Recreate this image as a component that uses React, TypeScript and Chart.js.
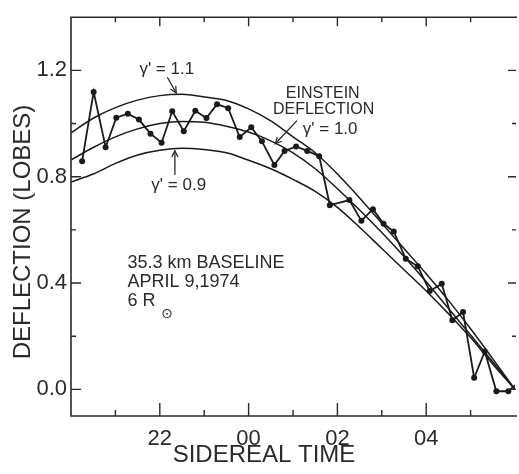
import React, { useEffect, useRef } from "react";
import { Chart, registerables } from "chart.js";

Chart.register(...registerables);

// Sidereal time in hours (00 h is written as 24, 02 h as 26, ...)
const measuredHours = [
  20.25, 20.51, 20.78, 21.02, 21.28, 21.53, 21.79, 22.04, 22.28, 22.54, 22.8, 23.05, 23.29,
  23.54, 23.8, 24.06, 24.3, 24.58, 24.81, 25.07, 25.32, 25.59, 25.83, 26.27, 26.54, 26.8,
  27.04, 27.27, 27.54, 27.81, 28.08, 28.35, 28.59, 28.83, 29.08, 29.32, 29.58, 29.85, 30.1,
];
const measuredDeflection = [
  0.858, 1.119, 0.911, 1.022, 1.037, 1.015, 0.962, 0.928, 1.046, 0.971, 1.048, 1.021, 1.073,
  1.058, 0.949, 0.986, 0.933, 0.844, 0.897, 0.914, 0.897, 0.877, 0.693, 0.712, 0.634, 0.678,
  0.623, 0.594, 0.491, 0.463, 0.37, 0.397, 0.26, 0.291, 0.044, 0.143, -0.007, -0.007, 0.03,
];

const curveHours = [
  20, 20.5, 21, 21.5, 22, 22.5, 23, 23.5, 24, 24.5, 25, 25.5, 26, 26.5, 27, 27.5, 28, 28.5, 29,
  29.5, 30,
];
const gamma11 = [
  0.965, 1.02, 1.06, 1.088, 1.105, 1.11, 1.1, 1.087, 1.055, 1.01, 0.95, 0.89, 0.81, 0.72, 0.625,
  0.53, 0.435, 0.335, 0.228, 0.115, 0.0,
];
const gamma10 = [
  0.863, 0.91, 0.95, 0.98, 1.0, 1.008, 1.005, 0.99, 0.968, 0.935, 0.89, 0.83, 0.755, 0.675, 0.59,
  0.5, 0.405, 0.305, 0.205, 0.103, 0.0,
];
const gamma09 = [
  0.78, 0.81, 0.85, 0.882, 0.9, 0.907, 0.902, 0.89, 0.862, 0.83, 0.79, 0.745, 0.685, 0.61, 0.53,
  0.45, 0.37, 0.285, 0.195, 0.095, 0.0,
];

const xMajorTicks = [22, 24, 26, 28];
const xMinorTicks = [21, 23, 25, 27, 29];
const xTickLabels = ["22", "00", "02", "04"];
const yMajorTicks = [0, 0.4, 0.8, 1.2];
const yMinorTicks = [0.2, 0.6, 1.0];
const yTickLabels = ["0.0", "0.4", "0.8", "1.2"];

const X_MIN = 20;
const X_MAX = 30;
const Y_MIN = -0.1;
const Y_MAX = 1.4;

const INK = "#2a2a2a";
const LINE = "#1a1a1a";
const FONT = "'Liberation Sans', Arial, sans-serif";

const toPts = (xs: number[], ys: number[]) => xs.map((x, i) => ({ x, y: ys[i] }));

function arrow(ctx: CanvasRenderingContext2D, x1: number, y1: number, x2: number, y2: number) {
  ctx.beginPath();
  ctx.moveTo(x1, y1);
  ctx.lineTo(x2, y2);
  ctx.stroke();
  const ang = Math.atan2(y2 - y1, x2 - x1);
  const len = 7;
  ctx.beginPath();
  ctx.moveTo(x2 - len * Math.cos(ang - 0.45), y2 - len * Math.sin(ang - 0.45));
  ctx.lineTo(x2, y2);
  ctx.lineTo(x2 - len * Math.cos(ang + 0.45), y2 - len * Math.sin(ang + 0.45));
  ctx.stroke();
}

const framePlugin = {
  id: "frame",
  afterDraw(chart: any) {
    const { ctx, chartArea: a, scales } = chart;
    const xs = scales.x;
    const ys = scales.y;
    const px = (v: number) => xs.getPixelForValue(v);
    const py = (v: number) => ys.getPixelForValue(v);
    ctx.save();
    ctx.strokeStyle = INK;
    ctx.lineWidth = 1.6;
    ctx.beginPath();
    ctx.moveTo(a.right + 2, a.top);
    ctx.lineTo(a.left, a.top);
    ctx.lineTo(a.left, a.bottom);
    ctx.lineTo(a.right + 2, a.bottom);
    ctx.stroke();

    ctx.lineWidth = 1.4;
    ctx.beginPath();
    xMajorTicks.forEach((v) => {
      const x = px(v);
      ctx.moveTo(x, a.bottom);
      ctx.lineTo(x, a.bottom - 13);
      ctx.moveTo(x, a.top);
      ctx.lineTo(x, a.top + 9);
    });
    xMinorTicks.forEach((v) => {
      const x = px(v);
      ctx.moveTo(x, a.bottom);
      ctx.lineTo(x, a.bottom - 6);
      ctx.moveTo(x, a.top);
      ctx.lineTo(x, a.top + 5);
    });
    yMajorTicks.forEach((v) => {
      const y = py(v);
      ctx.moveTo(a.left, y);
      ctx.lineTo(a.left + 10, y);
      ctx.moveTo(a.right + 1, y);
      ctx.lineTo(a.right - 7, y);
    });
    yMinorTicks.forEach((v) => {
      const y = py(v);
      ctx.moveTo(a.left, y);
      ctx.lineTo(a.left + 5, y);
      ctx.moveTo(a.right + 1, y);
      ctx.lineTo(a.right - 3, y);
    });
    ctx.stroke();

    // axis titles
    ctx.fillStyle = INK;
    ctx.font = `24px ${FONT}`;
    ctx.textAlign = "center";
    ctx.textBaseline = "middle";
    ctx.fillText("SIDEREAL TIME", 264, 455);
    ctx.save();
    ctx.translate(23, 232);
    ctx.rotate(-Math.PI / 2);
    ctx.fillText("DEFLECTION (LOBES)", 0, 0);
    ctx.restore();

    // annotations (placed in data coordinates)
    ctx.font = `17px ${FONT}`;
    ctx.textAlign = "left";
    ctx.fillText("\u03b3' = 1.1", px(21.54), py(1.204));
    ctx.fillText("\u03b3' = 0.9", px(21.81), py(0.767));
    ctx.fillText("\u03b3' = 1.0", px(25.22), py(0.978));
    ctx.font = `16px ${FONT}`;
    ctx.textAlign = "center";
    ctx.fillText("EINSTEIN", px(25.67), py(1.111));
    ctx.fillText("DEFLECTION", px(25.69), py(1.052));

    ctx.lineWidth = 1.3;
    arrow(ctx, px(22.17), py(1.174), px(22.37), py(1.115));
    arrow(ctx, px(22.34), py(0.807), px(22.34), py(0.898));
    arrow(ctx, px(25.09), py(1.011), px(24.6), py(0.924));

    ctx.textAlign = "left";
    ctx.font = `18px ${FONT}`;
    ctx.fillText("35.3 km BASELINE", px(21.27), py(0.474));
    ctx.fillText("APRIL 9,1974", px(21.27), py(0.404));
    ctx.fillText("6 R", px(21.27), py(0.333));
    ctx.font = `14px 'DejaVu Sans', ${FONT}`;
    ctx.fillText("\u2299", px(22.03), py(0.283));
    ctx.restore();
  },
};

export default function App() {
  const ref = useRef<HTMLCanvasElement | null>(null);

  useEffect(() => {
    if (!ref.current) return;
    const curveStyle = {
      borderColor: LINE,
      borderWidth: 1.5,
      pointRadius: 0,
      cubicInterpolationMode: "monotone" as const,
      fill: false,
    };
    const chart = new Chart(ref.current, {
      type: "line",
      data: {
        datasets: [
          { label: "γ'=1.1", data: toPts(curveHours, gamma11), ...curveStyle },
          { label: "γ'=1.0 (Einstein)", data: toPts(curveHours, gamma10), ...curveStyle },
          { label: "γ'=0.9", data: toPts(curveHours, gamma09), ...curveStyle },
          {
            label: "Measured",
            data: toPts(measuredHours, measuredDeflection),
            borderColor: LINE,
            backgroundColor: LINE,
            borderWidth: 1.8,
            pointRadius: 3,
            pointBorderWidth: 0,
            tension: 0,
            fill: false,
          },
        ],
      },
      options: {
        animation: false,
        responsive: false,
        devicePixelRatio: 1,
        layout: { padding: { top: 11, right: 0, left: 0, bottom: 0 } },
        plugins: { legend: { display: false }, tooltip: { enabled: false }, title: { display: false } },
        scales: {
          x: {
            type: "linear",
            min: X_MIN,
            max: X_MAX,
            grid: { display: false, drawTicks: false, tickLength: 0 },
            border: { display: false },
            afterBuildTicks: (s: any) => {
              s.ticks = xMajorTicks.map((v) => ({ value: v }));
            },
            afterFit: (s: any) => {
              s.height = 58;
            },
            ticks: {
              autoSkip: false,
              maxRotation: 0,
              padding: 10,
              color: INK,
              font: { family: FONT, size: 22 },
              callback: (v: any) => {
                const i = xMajorTicks.indexOf(Number(v));
                return i >= 0 ? xTickLabels[i] : "";
              },
            },
          },
          y: {
            type: "linear",
            min: Y_MIN,
            max: Y_MAX,
            grid: { display: false, drawTicks: false, tickLength: 0 },
            border: { display: false },
            afterBuildTicks: (s: any) => {
              s.ticks = yMajorTicks.map((v) => ({ value: v }));
            },
            afterFit: (s: any) => {
              s.width = 71;
            },
            ticks: {
              autoSkip: false,
              padding: 4,
              color: INK,
              font: { family: FONT, size: 22 },
              callback: (v: any) => {
                const i = yMajorTicks.findIndex((t) => Math.abs(t - Number(v)) < 1e-6);
                return i >= 0 ? yTickLabels[i] : "";
              },
            },
          },
        },
      },
      plugins: [framePlugin],
    });
    return () => chart.destroy();
  }, []);

  return (
    <div style={{ position: "fixed", left: 0, top: 0, width: 519, height: 474, background: "#fff" }}>
      <canvas ref={ref} width={519} height={474} style={{ display: "block" }} />
    </div>
  );
}
